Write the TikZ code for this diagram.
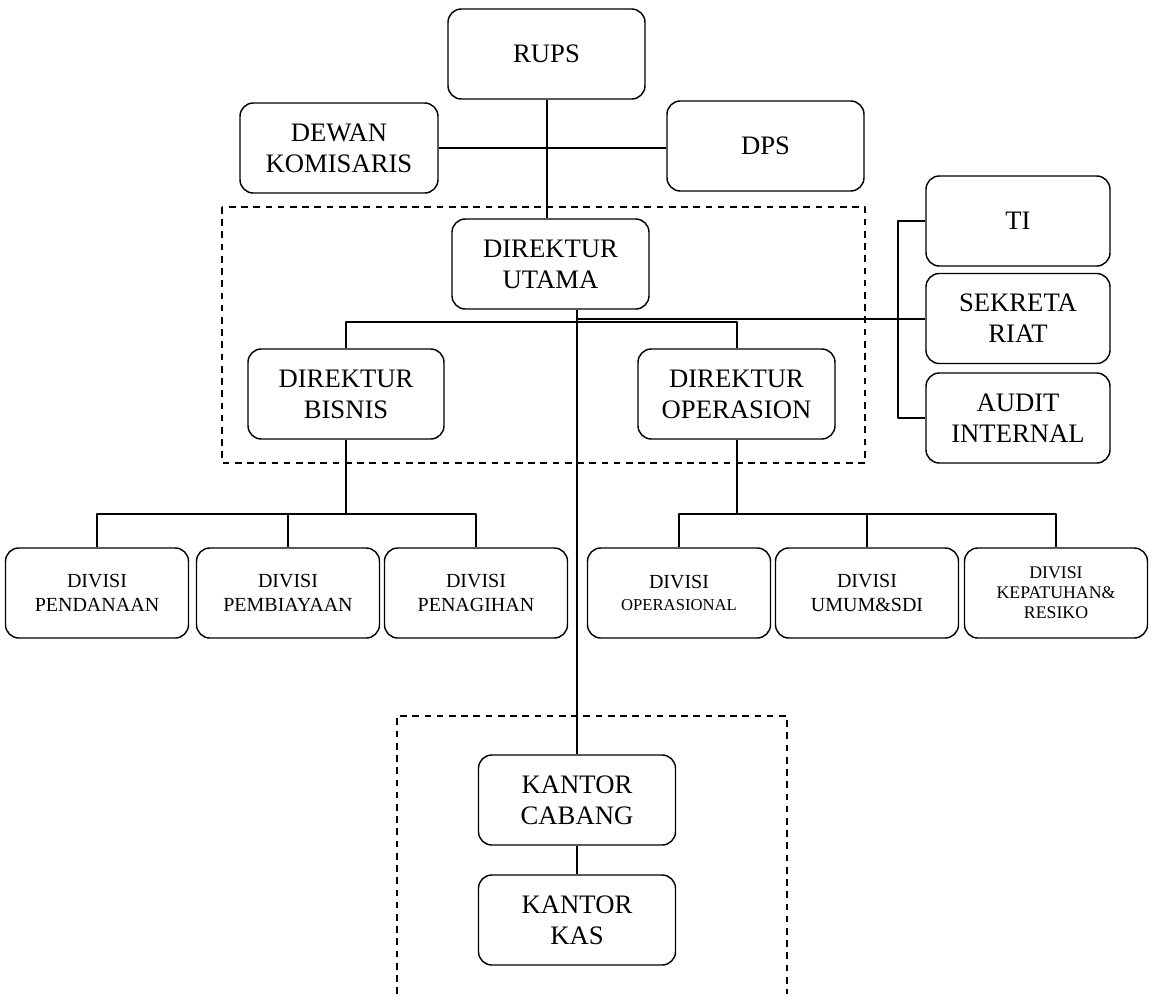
\documentclass[tikz,border=0pt]{standalone}
\usepackage{fontspec}
\setmainfont{Liberation Serif}

\begin{document}
\begin{tikzpicture}[line join=round,x=0.45pt,y=-0.45pt,
  kotak/.style={draw,line width=0.65pt,rounded corners=6pt,align=center,inner sep=1pt,
    minimum width=#1*0.45pt,minimum height=90*0.45pt,font=\fontsize{12}{14}\selectfont},
  kotak/.default=197,
  divisi/.style={kotak=183,font=\fontsize{9}{11}\selectfont},
  garis/.style={line width=0.9pt},
  putus/.style={line width=0.75pt,dash pattern=on 3pt off 2.5pt}]
\useasboundingbox (0,0) rectangle (1153,994);
%\draw[help lines] (0,0) grid[step=50] (1153,994);
% dashed frames
\draw [putus] (222,207) rectangle (865,463);
\draw [putus] (397,994) -- (397,716) -- (787,716) -- (787,994);
% top level
\node [kotak] (rups) at (546.5,54) {RUPS};
\node [kotak=198] (dewan) at (339,148) {DEWAN\\KOMISARIS};
\node [kotak] (dps) at (765.5,146) {DPS};
\node [kotak] (dirut) at (550.5,264) {DIREKTUR\\UTAMA};
\node [kotak=196] (dirbis) at (346,394) {DIREKTUR\\BISNIS};
\node [kotak] (dirops) at (736.5,394) {DIREKTUR\\OPERASION};
% staff on the right
\node [kotak=184] (ti) at (1018,221) {TI};
\node [kotak=184] (sekretariat) at (1018,318.5) {SEKRETA\\RIAT};
\node [kotak=184] (audit) at (1018,418) {AUDIT\\INTERNAL};
% divisions
\node [divisi] (pendanaan) at (97,593) {DIVISI\\PENDANAAN};
\node [divisi] (pembiayaan) at (288,593) {DIVISI\\PEMBIAYAAN};
\node [divisi] (penagihan) at (476,593) {DIVISI\\PENAGIHAN};
\node [divisi,font=\fontsize{9}{10}\selectfont] (operasional) at (679,593) {DIVISI\\{\fontsize{7.5}{9}\selectfont OPERASIONAL}};
\node [divisi] (umum) at (867,593) {DIVISI\\UMUM\&SDI};
\node [divisi,font=\fontsize{8}{9}\selectfont] (kepatuhan) at (1056,593) {DIVISI\\KEPATUHAN\&\\RESIKO};
% offices
\node [kotak] (cabang) at (577,800) {KANTOR\\CABANG};
\node [kotak] (kas) at (577,920) {KANTOR\\KAS};
% connectors
\draw [garis] (rups.south) -- (rups.south |- dirut.north);
\draw [garis] (dewan.east) -- (dewan.east -| dps.west);
\draw [garis] (cabang.north |- dirut.south) -- (cabang.north);
\draw [garis] (cabang.south) -- (kas.north);
\draw [garis] (dirbis.north) -- ++(0,-26) -| (dirops.north);
\draw [garis] (ti.west) -- ++(-27,0) coordinate (siku) |- (audit.west);
\draw [garis] (sekretariat.west) -- (sekretariat.west -| siku);
\draw [garis] (cabang.north |- 0,319) -- (siku |- 0,319);
\draw [garis] (dirbis.south) -- ++(0,74) coordinate (cabangkiri);
\draw [garis] (pendanaan.north) |- (cabangkiri) -| (penagihan.north);
\draw [garis] (pembiayaan.north) -- (pembiayaan.north |- cabangkiri);
\draw [garis] (dirops.south) -- ++(0,74) coordinate (cabangkanan);
\draw [garis] (operasional.north) |- (cabangkanan) -| (kepatuhan.north);
\draw [garis] (umum.north) -- (umum.north |- cabangkanan);
\end{tikzpicture}
\end{document}
